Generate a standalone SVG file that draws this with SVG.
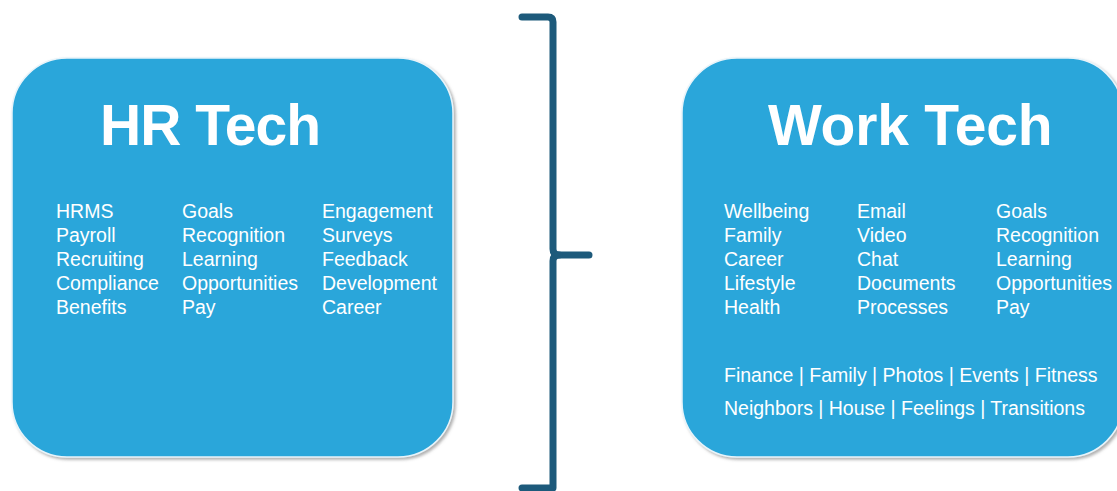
<svg xmlns="http://www.w3.org/2000/svg" width="1117" height="491" viewBox="0 0 1117 491">
<defs>
<filter id="sh" x="-5%" y="-5%" width="112%" height="112%">
<feDropShadow dx="2" dy="2" stdDeviation="1.5" flood-color="#7a7a7a" flood-opacity="0.6"/>
</filter>
<style>
.box{fill:#2aa6da;stroke:#e8f4fa;stroke-width:1.5;filter:url(#sh)}
.title{font-family:"Liberation Sans",Arial,sans-serif;font-weight:bold;font-size:57px;letter-spacing:-1px;fill:#ffffff}
.item{font-family:"Liberation Sans",Arial,sans-serif;font-size:19.5px;fill:#ffffff}
.br{fill:none;stroke:#1d5a7b;stroke-width:7;stroke-linecap:round;stroke-linejoin:round}
</style>
</defs>
<rect width="1117" height="491" fill="#ffffff"/>
<g id="hr-tech">
<rect class="box" x="12" y="58" width="441" height="399" rx="55" ry="55"/>
<text class="title" x="100" y="145">HR Tech</text>
<g class="item">
<text x="56" y="218">HRMS</text>
<text x="56" y="242">Payroll</text>
<text x="56" y="266">Recruiting</text>
<text x="56" y="290">Compliance</text>
<text x="56" y="314">Benefits</text>
<text x="182" y="218">Goals</text>
<text x="182" y="242">Recognition</text>
<text x="182" y="266">Learning</text>
<text x="182" y="290">Opportunities</text>
<text x="182" y="314">Pay</text>
<text x="322" y="218">Engagement</text>
<text x="322" y="242">Surveys</text>
<text x="322" y="266">Feedback</text>
<text x="322" y="290">Development</text>
<text x="322" y="314">Career</text>
</g>
</g>
<g id="work-tech">
<rect class="box" x="682" y="58" width="441" height="399" rx="55" ry="55"/>
<text class="title" x="768" y="145" style="letter-spacing:-0.2px">Work Tech</text>
<g class="item">
<text x="724" y="218">Wellbeing</text>
<text x="724" y="242">Family</text>
<text x="724" y="266">Career</text>
<text x="724" y="290">Lifestyle</text>
<text x="724" y="314">Health</text>
<text x="857" y="218">Email</text>
<text x="857" y="242">Video</text>
<text x="857" y="266">Chat</text>
<text x="857" y="290">Documents</text>
<text x="857" y="314">Processes</text>
<text x="996" y="218">Goals</text>
<text x="996" y="242">Recognition</text>
<text x="996" y="266">Learning</text>
<text x="996" y="290">Opportunities</text>
<text x="996" y="314">Pay</text>
<text x="724" y="382">Finance | Family | Photos | Events | Fitness</text>
<text x="724" y="415">Neighbors | House | Feelings | Transitions</text>
</g>
</g>
<g id="connectors">
<path class="br" d="M522,17 H548 Q553,17 553,22 V249 Q553,255 559,255 H589"/>
<path class="br" d="M559,255 Q553,255 553,261 V488 H522"/>
</g>
</svg>
